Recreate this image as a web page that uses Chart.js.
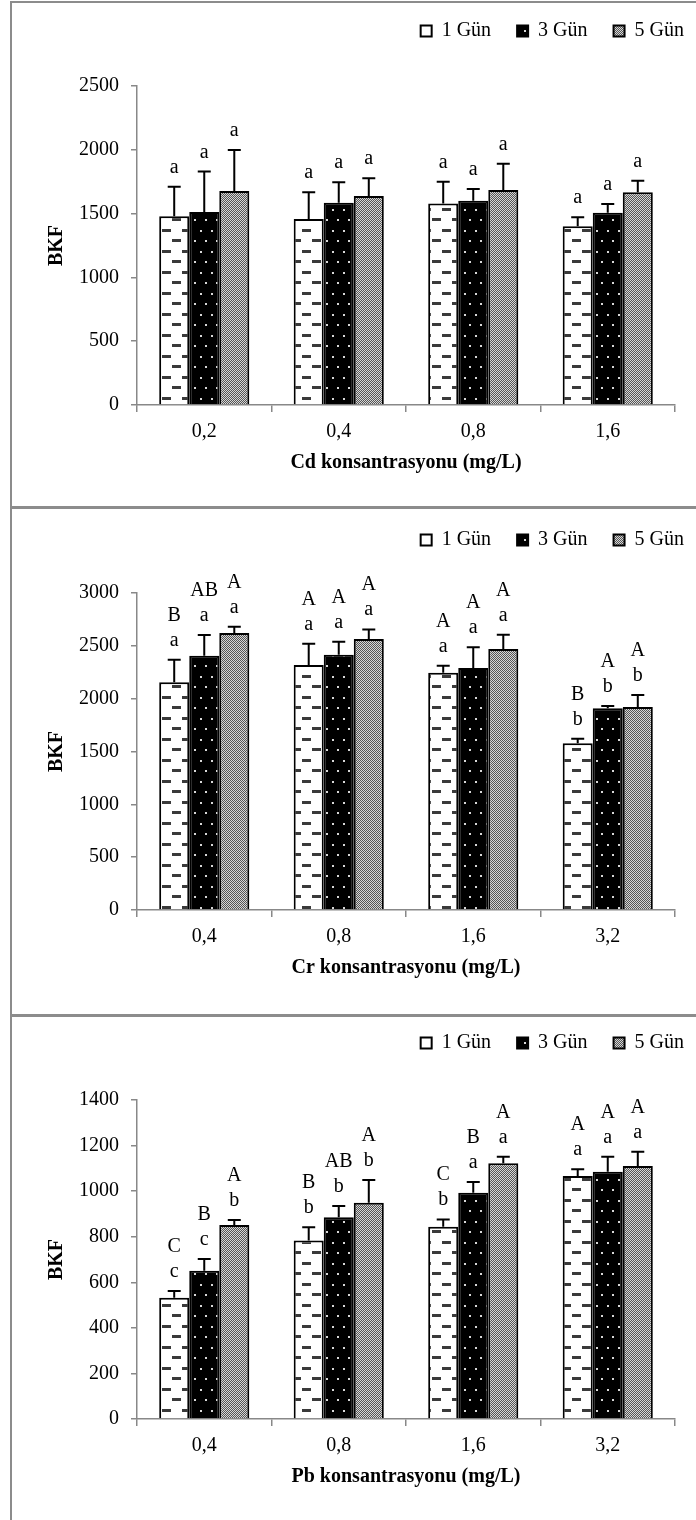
<!DOCTYPE html>
<html><head><meta charset="utf-8">
<script src="https://cdn.jsdelivr.net/npm/chart.js@4.4.1/dist/chart.umd.min.js"></script>
<style>
html,body{margin:0;padding:0;background:#fff;overflow:hidden;}
body{width:696px;height:1520px;position:relative;}
canvas{position:absolute;left:0;}
.ln{position:absolute;background:#8c8c8c;}
</style></head><body>
<div class="ln" style="left:10px;top:1px;width:2px;height:1520px"></div>
<div class="ln" style="left:10px;top:1px;width:700px;height:2px"></div>
<div class="ln" style="left:10px;top:506px;width:700px;height:3px"></div>
<div class="ln" style="left:10px;top:1014px;width:700px;height:3px"></div>
<canvas id="c1" width="710" height="513" style="top:-5px"></canvas>
<canvas id="c2" width="710" height="512" style="top:504px"></canvas>
<canvas id="c3" width="710" height="513" style="top:1007px"></canvas>
<script>
// ---- data ----
const seriesNames = ['1 Gün', '3 Gün', '5 Gün'];

const cdCategories = ['0,2', '0,4', '0,8', '1,6'];
const cd1 = [1480, 1458, 1580, 1400];
const cd3 = [1512, 1585, 1601, 1507];
const cd5 = [1677, 1638, 1685, 1667];
const cd1Err = [230, 209, 170, 71];
const cd3Err = [317, 160, 92, 68];
const cd5Err = [321, 139, 206, 91];
const cd1Low = ['a', 'a', 'a', 'a'];
const cd3Low = ['a', 'a', 'a', 'a'];
const cd5Low = ['a', 'a', 'a', 'a'];
const cdTicks = [0, 500, 1000, 1500, 2000, 2500];

const crCategories = ['0,4', '0,8', '1,6', '3,2'];
const cr1 = [2155, 2318, 2246, 1577];
const cr3 = [2407, 2416, 2290, 1909];
const cr5 = [2621, 2564, 2470, 1921];
const cr1Err = [213, 201, 66, 44];
const cr3Err = [195, 123, 196, 21];
const cr5Err = [60, 91, 135, 114];
const cr1Low = ['a', 'a', 'a', 'b'];
const cr3Low = ['a', 'a', 'a', 'b'];
const cr5Low = ['a', 'a', 'a', 'b'];
const cr1Up = ['B', 'A', 'A', 'B'];
const cr3Up = ['AB', 'A', 'A', 'A'];
const cr5Up = ['A', 'A', 'A', 'A'];
const crTicks = [0, 500, 1000, 1500, 2000, 2500, 3000];

const pbCategories = ['0,4', '0,8', '1,6', '3,2'];
const pb1 = [532, 783, 844, 1066];
const pb3 = [651, 885, 993, 1085];
const pb5 = [851, 949, 1122, 1110];
const pb1Err = [30, 58, 32, 30];
const pb3Err = [51, 50, 47, 66];
const pb5Err = [22, 100, 29, 63];
const pb1Low = ['c', 'b', 'b', 'a'];
const pb3Low = ['c', 'b', 'a', 'a'];
const pb5Low = ['b', 'b', 'a', 'a'];
const pb1Up = ['C', 'B', 'C', 'A'];
const pb3Up = ['B', 'AB', 'B', 'A'];
const pb5Up = ['A', 'A', 'A', 'A'];
const pbTicks = [0, 200, 400, 600, 800, 1000, 1200, 1400];

// ---- patterns ----
function tile(w, h, draw) {
  const c = document.createElement('canvas'); c.width = w; c.height = h;
  draw(c.getContext('2d'));
  return c.getContext('2d').createPattern(c, 'repeat');
}
const patDash = tile(20, 21, x => {
  x.fillStyle = '#fff'; x.fillRect(0, 0, 20, 21);
  x.fillStyle = '#3a3a3a';
  x.fillRect(2, 3, 9, 3);
  x.fillRect(12, 13, 8, 3); x.fillRect(0, 13, 1, 3);
});
const patDots = tile(11, 21, x => {
  x.fillStyle = '#000'; x.fillRect(0, 0, 11, 21);
  x.fillStyle = '#d8d8d8';
  x.fillRect(2, 4, 2, 2);
  x.fillRect(7, 14, 2, 2);
});
const patCheck = tile(2, 2, x => {
  x.fillStyle = '#d6d6d6'; x.fillRect(0, 0, 2, 2);
  x.fillStyle = '#555'; x.fillRect(0, 0, 1, 1); x.fillRect(1, 1, 1, 1);
});
const patterns = [patDash, patDots, patCheck];

Chart.defaults.font.family = "'Liberation Serif', 'Times New Roman', serif";
Chart.defaults.font.size = 20;
Chart.defaults.color = '#000';

const marks = {
  id: 'errAndLetters',
  afterDatasetsDraw(chart) {
    const ctx = chart.ctx, y = chart.scales.y;
    chart.data.datasets.forEach((ds, i) => {
      const meta = chart.getDatasetMeta(i);
      meta.data.forEach((bar, j) => {
        const base = y.getPixelForValue(ds.data[j]);
        const top = y.getPixelForValue(ds.data[j] + ds.errors[j]);
        ctx.save();
        ctx.strokeStyle = '#000'; ctx.lineWidth = 2;
        ctx.beginPath();
        ctx.moveTo(bar.x, base); ctx.lineTo(bar.x, top);
        ctx.moveTo(bar.x - 6.5, top); ctx.lineTo(bar.x + 6.5, top);
        ctx.stroke();
        ctx.fillStyle = '#000';
        ctx.font = "20px 'Liberation Serif', 'Times New Roman', serif";
        ctx.textAlign = 'center'; ctx.textBaseline = 'alphabetic';
        if (ds.lower) ctx.fillText(ds.lower[j], bar.x, top - 14);
        if (ds.upper) ctx.fillText(ds.upper[j], bar.x, top - 39);
        ctx.restore();
      });
    });
  }
};

function makeChart(id, cats, vals, errs, lows, ups, yTicks, xTitle, topH, padBottom) {
  const datasets = vals.map((v, i) => ({
    label: seriesNames[i], data: v, errors: errs[i], lower: lows[i], upper: ups ? ups[i] : null,
    backgroundColor: patterns[i], borderColor: '#000', borderWidth: 2,
    xAxisID: 'x', yAxisID: 'y'
  }));
  return new Chart(document.getElementById(id), {
    type: 'bar',
    data: { labels: cats, datasets },
    plugins: [marks],
    options: {
      responsive: false, animation: false, devicePixelRatio: 1,
      layout: { padding: { left: 45, right: 0, top: 0, bottom: padBottom } },
      datasets: { bar: { categoryPercentage: 0.67, barPercentage: 1.0 } },
      plugins: {
        legend: { position: 'top', align: 'end',
          labels: { boxWidth: 11, boxHeight: 11, padding: 26, color: '#000', font: { size: 20 } } },
        tooltip: { enabled: false }
      },
      scales: {
        x: {
          position: 'bottom',
          grid: { offset: true, drawOnChartArea: false, tickLength: 7, color: '#888', lineWidth: 1.5 },
          border: { color: '#888', width: 1.5 },
          ticks: { padding: 8, color: '#000', font: { size: 20 } },
          title: { display: true, text: xTitle, color: '#000', font: { size: 20, weight: 'bold' }, padding: 0 },
          afterFit: s => { s.height = 70; }
        },
        xTop: {
          type: 'category', position: 'top', display: true,
          grid: { display: false }, border: { display: false }, ticks: { display: false },
          afterFit: s => { s.height = topH; }
        },
        y: {
          position: 'left', min: 0, max: yTicks[yTicks.length - 1],
          afterBuildTicks: s => { s.ticks = yTicks.map(v => ({ value: v })); },
          grid: { drawOnChartArea: false, tickLength: 6, color: '#888', lineWidth: 1.5 },
          border: { color: '#888', width: 1.5 },
          ticks: { padding: 12, color: '#000', font: { size: 20 }, callback: v => String(v) },
          title: { display: true, text: 'BKF', color: '#000', font: { size: 20, weight: 'bold' }, padding: 0 },
          afterFit: s => { s.width = 92; }
        },
        yR: {
          type: 'linear', position: 'right', display: true,
          grid: { display: false }, border: { display: false }, ticks: { display: false },
          afterFit: s => { s.width = 35; }
        }
      }
    }
  });
}

makeChart('c1', cdCategories, [cd1, cd3, cd5], [cd1Err, cd3Err, cd5Err], [cd1Low, cd3Low, cd5Low], null,
  cdTicks, 'Cd konsantrasyonu (mg/L)', 35, 33);
makeChart('c2', crCategories, [cr1, cr3, cr5], [cr1Err, cr3Err, cr5Err], [cr1Low, cr3Low, cr5Low], [cr1Up, cr3Up, cr5Up],
  crTicks, 'Cr konsantrasyonu (mg/L)', 33, 36);
makeChart('c3', pbCategories, [pb1, pb3, pb5], [pb1Err, pb3Err, pb5Err], [pb1Low, pb3Low, pb5Low], [pb1Up, pb3Up, pb5Up],
  pbTicks, 'Pb konsantrasyonu (mg/L)', 37, 31);
</script>
</body></html>
